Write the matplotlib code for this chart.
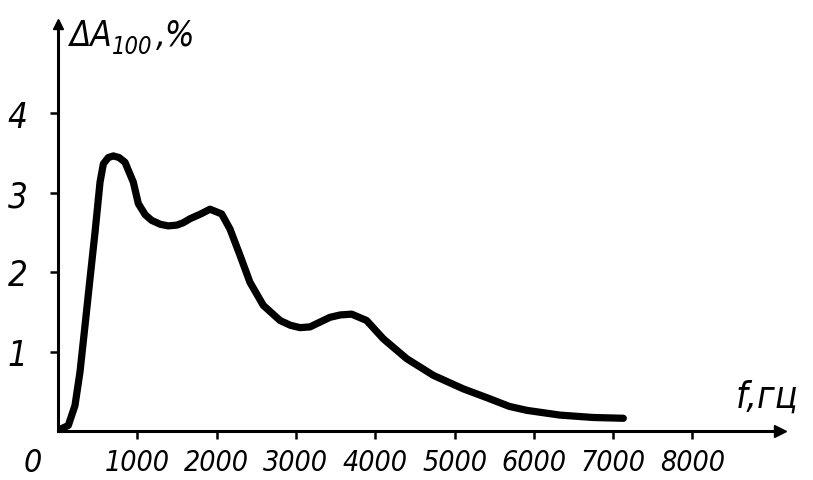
import matplotlib.pyplot as plt
from matplotlib import font_manager as fm

# frequency, Hz
freq = [25, 130, 214, 277, 340, 403, 467, 530, 572, 635, 698, 770, 845, 950,
        1013, 1100, 1180, 1290, 1391, 1500, 1580, 1665, 1800, 1917, 2064, 2169,
        2295, 2421, 2589, 2800, 2930, 3052, 3180, 3262, 3430, 3560, 3703, 3892,
        4102, 4397, 4733, 5111, 5406, 5690, 5910, 6330, 6750, 7129]
# delta A100, %
delta_a = [0.02, 0.07, 0.32, 0.74, 1.32, 1.91, 2.50, 3.13, 3.36, 3.44, 3.46,
           3.44, 3.38, 3.13, 2.86, 2.72, 2.65, 2.60, 2.58, 2.59, 2.62, 2.67, 2.73,
           2.79, 2.73, 2.54, 2.21, 1.87, 1.58, 1.39, 1.33, 1.30, 1.31, 1.35, 1.43,
           1.46, 1.47, 1.39, 1.16, 0.91, 0.70, 0.53, 0.42, 0.31, 0.26, 0.20, 0.17,
           0.16]

x_ticks = [1000, 2000, 3000, 4000, 5000, 6000, 7000, 8000]
y_ticks = [1, 2, 3, 4]


def wnum(w):
    if isinstance(w, (int, float)):
        return w
    return {'normal': 400, 'regular': 400, 'book': 400, 'bold': 700}.get(str(w), 400)


# look for a narrow italic face (the scan uses condensed lettering)
cands = []
for f in fm.fontManager.ttflist:
    nm = f.name.lower()
    if ('narrow' in nm or 'condensed' in nm or 'condensed' in str(f.stretch)) \
            and f.style in ('italic', 'oblique'):
        cands.append((abs(wnum(f.weight) - 400), f.fname))
if cands:
    cands.sort()
    fp = fm.FontProperties(fname=cands[0][1])
else:
    fp = fm.FontProperties(family='DejaVu Sans', style='italic')


def font(size):
    p = fp.copy()
    p.set_size(size)
    return p


fig = plt.figure(figsize=(8.13, 4.81), dpi=100)
ax = fig.add_axes([58 / 813, 49 / 481, 722 / 813, 407 / 481])
ax.set_xlim(0, 722 / 79.3 * 1000)
ax.set_ylim(0, 407 / 79.5)

ax.plot(freq, delta_a, color='black', lw=5.2, solid_joinstyle='round',
        solid_capstyle='round')

for s in ['top', 'right']:
    ax.spines[s].set_visible(False)
for s in ['left', 'bottom']:
    ax.spines[s].set_linewidth(2.2)

# arrow heads on axes
ax.plot(1, 0, '>k', ms=9, transform=ax.transAxes, clip_on=False)
ax.plot(0, 1, '^k', ms=7, transform=ax.transAxes, clip_on=False)

ax.set_xticks(x_ticks)
ax.set_xticklabels([str(t) for t in x_ticks])
ax.set_yticks(y_ticks)
ax.set_yticklabels([str(t) for t in y_ticks])
ax.tick_params(axis='both', direction='out', length=6, width=1.8)
ax.tick_params(axis='y', pad=16)
ax.tick_params(axis='x', pad=6)
for lab in ax.get_xticklabels():
    lab.set_fontproperties(font(20.5))
for lab in ax.get_yticklabels():
    lab.set_fontproperties(font(25))

ax.text(-0.035, -0.04, '0', transform=ax.transAxes, fontproperties=font(23),
        ha='center', va='top')

# axis titles
fig.text(70 / 813, 1 - 46 / 481, '\u0394A', fontproperties=font(25),
         ha='left', va='baseline')
fig.text(112 / 813, 1 - 54 / 481, '100', fontproperties=font(17),
         ha='left', va='baseline')
fig.text(156 / 813, 1 - 46 / 481, ',%', fontproperties=font(25),
         ha='left', va='baseline')
fig.text(736 / 813, 1 - 408 / 481, 'f,\u0433\u0446', fontproperties=font(27),
         ha='left', va='baseline')

fig.savefig('out.png', dpi=100)
